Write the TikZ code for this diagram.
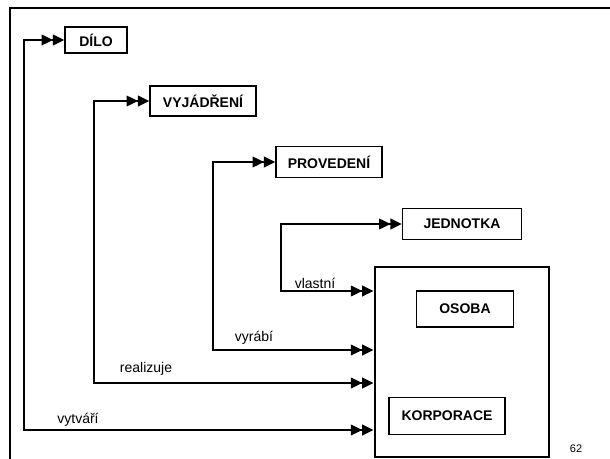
\documentclass[tikz,border=0pt]{standalone}
\usepackage{fontspec}
\setmainfont{Liberation Sans}
\usepackage{tikz}
\usetikzlibrary{arrows.meta}

\begin{document}
\begin{tikzpicture}[x=0.75pt,y=0.75pt,yscale=-1,xscale=1,
  entity/.style={draw,line width=1.1pt,inner sep=0pt,font=\bfseries\fontsize{10.5}{12}\selectfont},
  holder/.style={draw,line width=2.2pt,inner sep=0pt},
  link/.style={line width=1.2pt,{Triangle[length=8.5pt,width=8pt]Triangle[length=8.5pt,width=8pt]}-{Triangle[length=8.5pt,width=8pt]Triangle[length=8.5pt,width=8pt]}},
  role/.style={inner sep=0.75pt,font=\fontsize{10.5}{12}\selectfont}]
\useasboundingbox (0,0) rectangle (610,459);

%Straight Lines: frame
\draw [line width=1.6pt]  (610,8) -- (10,8) -- (10,459) ;

%Shape: Rectangle
\node [entity,minimum width=46.5pt,minimum height=19.5pt] (dilo) at (96,40) {DÍLO};
%Shape: Rectangle
\node [entity,minimum width=79.5pt,minimum height=22.5pt] (vyjadreni) at (203,101) {VYJÁDŘENÍ};
%Shape: Rectangle
\node [entity,minimum width=79.5pt,minimum height=23.25pt] (provedeni) at (329,162) {PROVEDENÍ};
%Shape: Rectangle
\node [entity,minimum width=89.25pt,minimum height=23.25pt] (jednotka) at (462,224) {JEDNOTKA};
%Shape: Rectangle
\node [holder,minimum width=130.5pt,minimum height=142.5pt] (subjekt) at (462,362) {};
%Shape: Rectangle
\node [entity,minimum width=72.75pt,minimum height=27pt] (osoba) at (465,309) {OSOBA};
%Shape: Rectangle
\node [entity,minimum width=87pt,minimum height=27.75pt] (korporace) at (447,416) {KORPORACE};

%Straight Lines
\draw [link]  (subjekt.west |- 0,430) -| (24,40) -- (dilo.west) ;
%Straight Lines
\draw [link]  (subjekt.west |- 0,383) -| (94,101) -- (vyjadreni.west) ;
%Straight Lines
\draw [link]  (subjekt.west |- 0,350) -| (213,162) -- (provedeni.west) ;
%Straight Lines
\draw [link]  (subjekt.west |- 0,291) -| (281,224) -- (jednotka.west) ;

% Text Node
\node [role] (vytvari) at (78,420) {vytváří};
% Text Node
\node [role] (realizuje) at (146,369) {realizuje};
% Text Node
\node [role] (vyrabi) at (254,338) {vyrábí};
% Text Node
\node [role] (vlastni) at (315,283) {vlastní};
% Text Node
\node [inner sep=0.75pt,font=\fontsize{8.25}{10}\selectfont] (cislo) at (576,449) {62};

\end{tikzpicture}
\end{document}
